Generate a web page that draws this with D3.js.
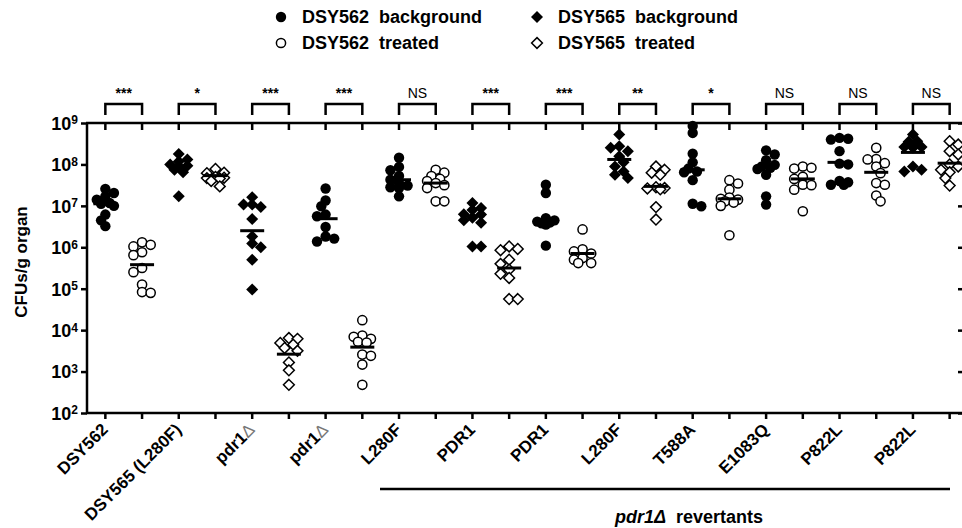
<!DOCTYPE html>
<html>
<head>
<meta charset="utf-8">
<script src="https://cdn.jsdelivr.net/npm/d3@7"></script>
<style>
  body { margin: 0; background: #fff; }
  #chart { position: relative; width: 962px; height: 528px; overflow: hidden; }
  #chart svg { position: absolute; left: 0; top: 0; }
  text { font-family: "Liberation Sans", Arial, sans-serif; }
  .xlab {
    position: absolute; left: 0; top: 0;
    font: bold 17px "Liberation Sans", Arial, sans-serif;
    line-height: 1; white-space: nowrap;
    transform-origin: 0 0;
  }
  .xlab .delta { font-weight: normal; color: #777; }
</style>
</head>
<body>
<div id="chart"></div>
<script>
// group labels under each pair of columns
const groupLabels = ["DSY562", "DSY565 (L280F)", "pdr1Δ", "pdr1Δ", "L280F", "PDR1",
                     "PDR1", "L280F", "T588A", "E1083Q", "P822L", "P822L"];
// marker shape per group
const groupShapes = ["circle", "diamond", "diamond", "circle", "circle", "diamond",
                     "circle", "diamond", "circle", "circle", "circle", "diamond"];
// significance per group
const sigLabels = ["***", "*", "***", "***", "NS", "***", "***", "**", "*", "NS", "NS", "NS"];

// log10 CFUs/g organ, background strain (filled) per group
const bgValues = [
  [7.41, 7.31, 7.23, 7.15, 7.07, 7.05, 7.0, 6.79, 6.65, 6.51],
  [8.25, 8.12, 8.07, 8.0, 7.97, 7.95, 7.87, 7.81, 7.23],
  [7.21, 7.03, 7.03, 6.97, 6.68, 6.26, 6.09, 6.0, 5.7, 4.98],
  [7.42, 7.13, 6.99, 6.79, 6.75, 6.49, 6.26, 6.21, 6.14],
  [8.16, 7.94, 7.86, 7.72, 7.63, 7.55, 7.49, 7.45, 7.43, 7.23],
  [7.07, 6.95, 6.9, 6.8, 6.79, 6.71, 6.65, 6.59, 6.02, 6.02],
  [7.51, 7.31, 6.7, 6.65, 6.62, 6.6, 6.58, 6.55, 6.04],
  [8.72, 8.44, 8.4, 8.32, 8.2, 8.05, 7.95, 7.83, 7.75, 7.67],
  [8.93, 8.76, 8.26, 8.05, 7.9, 7.83, 7.81, 7.62, 7.05, 6.99],
  [8.34, 8.24, 8.1, 7.99, 7.95, 7.92, 7.89, 7.75, 7.23, 7.03],
  [8.64, 8.62, 8.6, 8.32, 8.02, 8.0, 7.6, 7.57, 7.51, 7.51],
  [8.72, 8.56, 8.55, 8.42, 8.42, 8.4, 7.95, 7.87, 7.83]
];
// log10 CFUs/g organ, treated (open) per group
const trValues = [
  [6.12, 6.06, 6.02, 5.88, 5.81, 5.5, 5.4, 5.1, 4.92, 4.9],
  [7.89, 7.8, 7.79, 7.7, 7.68, 7.67, 7.66, 7.6, 7.47],
  [3.81, 3.79, 3.69, 3.65, 3.57, 3.5, 3.22, 3.03, 2.68],
  [4.24, 3.87, 3.84, 3.79, 3.72, 3.7, 3.41, 3.38, 3.17, 2.68],
  [7.87, 7.8, 7.72, 7.65, 7.6, 7.55, 7.5, 7.43, 7.11, 7.11],
  [6.02, 5.96, 5.93, 5.7, 5.6, 5.46, 5.36, 5.26, 4.75, 4.75],
  [6.43, 5.95, 5.9, 5.85, 5.74, 5.7, 5.62, 5.62],
  [7.95, 7.87, 7.8, 7.75, 7.45, 7.43, 7.42, 7.4, 6.97, 6.67],
  [7.62, 7.54, 7.39, 7.2, 7.17, 7.15, 7.11, 7.08, 7.0, 6.29],
  [7.95, 7.92, 7.9, 7.7, 7.65, 7.51, 7.5, 7.39, 6.87],
  [8.4, 8.13, 8.12, 8.03, 7.95, 7.79, 7.55, 7.51, 7.25, 7.11],
  [8.56, 8.48, 8.32, 8.24, 8.0, 7.95, 7.87, 7.81, 7.67, 7.49]
];
// central line (log10) per column
const bgCenter = [7.05, 7.97, 6.4, 6.69, 7.63, 6.76, 6.59, 8.12, 7.87, 7.95, 8.05, 8.29];
const trCenter = [5.58, 7.73, 3.42, 3.59, 7.55, 5.5, 5.85, 7.47, 7.17, 7.65, 7.81, 8.03];

const yTicks = [2, 3, 4, 5, 6, 7, 8, 9];

const width = 962, height = 528;
const chart = d3.select("#chart");
const svg = chart.append("svg")
  .attr("width", width).attr("height", height);

const x = d3.scaleBand().domain(d3.range(24)).range([87, 968]).padding(0);
const cx = i => x(i) + x.bandwidth() / 2;
const y = d3.scaleLog().domain([1e2, 1e9]).range([413, 123]);

const axisW = 2.5;

// left axis
const yAxis = svg.append("g")
  .attr("transform", "translate(87,0)")
  .call(d3.axisLeft(y).tickValues(yTicks.map(d => 10 ** d)).tickSize(6).tickFormat(""));
yAxis.select(".domain").attr("stroke-width", axisW).attr("d", "M0,413V123");
yAxis.selectAll(".tick line").attr("stroke-width", axisW);
yAxis.selectAll(".tick").each(function(d) {
  const t = d3.select(this).append("text")
    .attr("x", -9).attr("dy", "0.35em")
    .attr("text-anchor", "end").attr("fill", "#000")
    .style("font-size", "18px").style("font-weight", "bold");
  t.append("tspan").text("10");
  t.append("tspan").attr("dy", "-0.45em").style("font-size", "12px")
    .text(Math.round(Math.log10(d)));
});

// right axis (mostly off the picture)
const rAxis = svg.append("g")
  .attr("transform", "translate(968,0)")
  .call(d3.axisLeft(y).tickValues(yTicks.map(d => 10 ** d)).tickSize(10).tickFormat(""));
rAxis.select(".domain").attr("stroke-width", axisW).attr("d", "M0,413V123");
rAxis.selectAll(".tick line").attr("stroke-width", axisW);

// bottom axis
const xAxis = svg.append("g")
  .attr("transform", "translate(0,413)")
  .call(d3.axisBottom(x).tickSize(6).tickFormat(""));
xAxis.select(".domain").attr("stroke-width", axisW).attr("d", "M86,0H968");
xAxis.selectAll(".tick line").attr("stroke-width", axisW);

// top axis with inner ticks
const tAxis = svg.append("g")
  .attr("transform", "translate(0,123)")
  .call(d3.axisBottom(x).tickSize(7).tickFormat(""));
tAxis.select(".domain").attr("stroke-width", axisW).attr("d", "M86,0H968");
tAxis.selectAll(".tick line").attr("stroke-width", axisW);

// y title
svg.append("text")
  .attr("transform", "translate(27,262) rotate(-90)")
  .attr("text-anchor", "middle")
  .style("font-size", "17px").style("font-weight", "bold")
  .text("CFUs/g organ");

// x labels, rotated 45 degrees; right end of the baseline sits just below each tick
groupLabels.forEach((lab, g) => {
  const ax = cx(2 * g) + 4, ay = 431;
  const div = chart.append("div")
    .attr("class", "xlab")
    .style("transform", `translate(${ax}px, ${ay}px) rotate(-45deg) translate(-100%, -0.85em)`);
  if (lab.endsWith("Δ")) {
    div.append("span").text(lab.slice(0, -1));
    div.append("span").attr("class", "delta").text("Δ");
  } else {
    div.text(lab);
  }
});

// revertants bracket line and label
svg.append("line")
  .attr("x1", 380).attr("x2", 950).attr("y1", 489).attr("y2", 489)
  .attr("stroke", "#000").attr("stroke-width", axisW);
const rev = svg.append("text")
  .attr("x", 689).attr("y", 523).attr("text-anchor", "middle")
  .style("font-size", "18px").style("font-weight", "bold");
rev.append("tspan").style("font-style", "italic").text("pdr1Δ");
rev.append("tspan").text("\u00a0 revertants");

// significance brackets
sigLabels.forEach((s, g) => {
  const x1 = cx(2 * g), x2 = cx(2 * g + 1);
  svg.append("path")
    .attr("d", `M${x1},115V104H${x2}V115`)
    .attr("fill", "none").attr("stroke", "#000").attr("stroke-width", axisW);
  svg.append("text")
    .attr("x", (x1 + x2) / 2).attr("y", 98)
    .attr("text-anchor", "middle")
    .style("font-size", "14px")
    .style("font-weight", s === "NS" ? "normal" : "bold")
    .text(s);
});

// marker drawing
const R = 5.2;
function marker(sel, shape, filled, px, py) {
  if (shape === "circle") {
    sel.append("circle").attr("cx", px).attr("cy", py)
      .attr("r", filled ? R : R - 0.6)
      .attr("fill", filled ? "#000" : "#fff")
      .attr("stroke", "#000").attr("stroke-width", filled ? 0 : 1.5);
  } else {
    const d = filled ? 6 : 5.4;
    sel.append("path")
      .attr("d", `M${px},${py - d}L${px + d},${py}L${px},${py + d}L${px - d},${py}Z`)
      .attr("fill", filled ? "#000" : "#fff")
      .attr("stroke", "#000").attr("stroke-width", filled ? 0 : 1.5);
  }
}

// compact beeswarm offsets (points may overlap a bit, like the original)
function swarm(vals, center) {
  const pts = vals.map(v => ({ v, py: y(10 ** v) })).sort((a, b) => a.py - b.py);
  const placed = [];
  const step = 4.3, minD = 1.35 * R;
  pts.forEach(p => {
    let best = 0, bestScore = -1;
    const sgn = placed.length % 2 ? 1 : -1;
    outer:
    for (let k = 0; k <= 2; k++) {
      const cands = k === 0 ? [0] : [k * step * sgn, -k * step * sgn];
      for (const off of cands) {
        const dmin = d3.min(placed, q => Math.hypot(q.px - (center + off), q.py - p.py)) ?? Infinity;
        if (dmin >= minD) { best = off; break outer; }
        if (dmin > bestScore) { bestScore = dmin; best = off; }
      }
    }
    p.px = center + best;
    placed.push(p);
  });
  return placed;
}

const plot = svg.append("g");
groupShapes.forEach((shape, g) => {
  [[bgValues[g], bgCenter[g], true, 2 * g], [trValues[g], trCenter[g], false, 2 * g + 1]]
    .forEach(([vals, mid, filled, col]) => {
      const c = cx(col);
      swarm(vals, c).forEach(p => marker(plot, shape, filled, p.px, p.py));
      plot.append("line")
        .attr("x1", c - 12).attr("x2", c + 12)
        .attr("y1", y(10 ** mid)).attr("y2", y(10 ** mid))
        .attr("stroke", "#000").attr("stroke-width", 3);
    });
});

// legend
const legendItems = [
  { label: "DSY562\u00a0 background", shape: "circle", filled: true, lx: 281, ly: 17 },
  { label: "DSY565\u00a0 background", shape: "diamond", filled: true, lx: 537, ly: 17 },
  { label: "DSY562\u00a0 treated", shape: "circle", filled: false, lx: 281, ly: 43 },
  { label: "DSY565\u00a0 treated", shape: "diamond", filled: false, lx: 537, ly: 43 }
];
const legend = svg.append("g");
legendItems.forEach(it => {
  marker(legend, it.shape, it.filled, it.lx, it.ly);
  legend.append("text")
    .attr("x", it.lx + 21).attr("y", it.ly).attr("dy", "0.36em")
    .style("font-size", "18px").style("font-weight", "bold")
    .text(it.label);
});
</script>
</body>
</html>
